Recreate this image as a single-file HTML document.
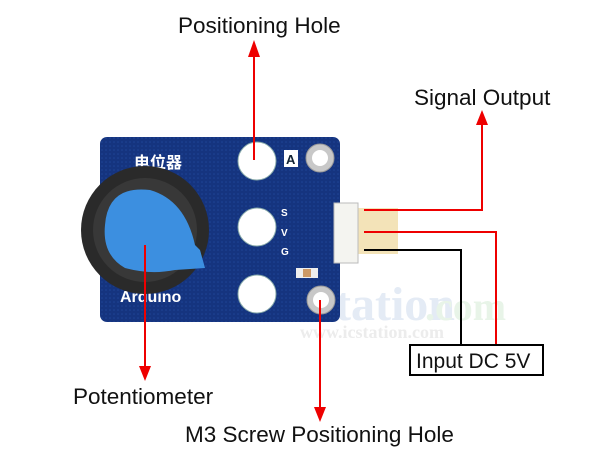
<!DOCTYPE html>
<html><head><style>body{margin:0;background:#fff}svg{display:block}text{font-family:"Liberation Sans",Arial,sans-serif;fill:#111}</style></head>
<body>
<svg width="600" height="450" viewBox="0 0 600 450" xmlns="http://www.w3.org/2000/svg">
<defs><pattern id="dots" width="4" height="4" patternUnits="userSpaceOnUse"><rect width="4" height="4" fill="#15347f"/><circle cx="2" cy="2" r="0.8" fill="#1f4496"/></pattern></defs>
<!-- watermark -->
<text x="335" y="320" font-size="48" font-weight="bold" style="fill:#e4ebf5;font-family:'Liberation Serif',serif">tation</text>
<text x="425" y="320" font-size="40" font-weight="bold" style="fill:#e8f4e8;font-family:'Liberation Serif',serif">.com</text>
<text x="300" y="338" font-size="18" font-weight="bold" style="fill:#ececec;font-family:'Liberation Serif',serif">www.icstation.com</text>
<!-- board -->
<rect x="100" y="137" width="240" height="185" rx="7" fill="url(#dots)"/>
<text x="134" y="168" font-size="16" font-weight="bold" style="fill:#fff;font-family:'Noto Sans CJK SC',sans-serif">电位器</text>
<text x="120" y="302" font-size="16" font-weight="bold" style="fill:#fff">Arduino</text>
<circle cx="257" cy="161" r="19" fill="#fff" stroke="#8aa" stroke-width="1"/>
<circle cx="257" cy="227" r="19" fill="#fff" stroke="#8aa" stroke-width="1"/>
<circle cx="257" cy="294" r="19" fill="#fff" stroke="#8aa" stroke-width="1"/>
<rect x="284" y="150" width="14" height="17" fill="#fff"/><text x="286" y="164" font-size="13" font-weight="bold" style="fill:#123">A</text>
<circle cx="320" cy="158" r="14" fill="#c8c8c8" stroke="#999"/><circle cx="320" cy="158" r="8" fill="#fff"/>
<circle cx="321" cy="300" r="14" fill="#c8c8c8" stroke="#999"/><circle cx="321" cy="300" r="8" fill="#fff"/>
<text x="281" y="216" font-size="10" font-weight="bold" style="fill:#fff">S</text>
<text x="281" y="236" font-size="10" font-weight="bold" style="fill:#fff">V</text>
<text x="281" y="255" font-size="10" font-weight="bold" style="fill:#fff">G</text>
<rect x="296" y="268" width="22" height="10" fill="#eee"/><rect x="303" y="269" width="8" height="8" fill="#c96"/>
<!-- connector -->
<rect x="358" y="208" width="40" height="46" fill="#f3e3b8"/>
<rect x="334" y="203" width="24" height="60" fill="#f4f4f0" stroke="#bbb"/>
<!-- knob -->
<circle cx="145" cy="230" r="64" fill="#2a2a2a"/>
<circle cx="145" cy="230" r="52" fill="#383838"/>
<path d="M105 225 Q108 185 150 190 Q185 200 195 245 L200 250 L205 268 L175 270 Q150 275 125 268 Q102 255 105 225Z" fill="#3c8fe0"/>
<!-- lines -->
<g stroke="#e00" stroke-width="2" fill="none">
<line x1="254" y1="55" x2="254" y2="160"/>
<polyline points="364,210 482,210 482,122"/>
<polyline points="364,232 496,232 496,345"/>
<line x1="145" y1="245" x2="145" y2="370"/>
<line x1="320" y1="300" x2="320" y2="410"/>
</g>
<polyline points="364,250 461,250 461,345" stroke="#000" stroke-width="2" fill="none"/>
<g fill="#e00">
<polygon points="254,40 248,57 260,57"/>
<polygon points="482,110 476,125 488,125"/>
<polygon points="145,381 139,366 151,366"/>
<polygon points="320,422 314,407 326,407"/>
</g>
<rect x="410" y="345" width="133" height="30" fill="#fff" stroke="#000" stroke-width="2"/>
<text x="416" y="368" font-size="21">Input DC 5V</text>
<text x="178" y="33" font-size="22.5">Positioning Hole</text>
<text x="414" y="105" font-size="22.5">Signal Output</text>
<text x="73" y="404" font-size="22.5">Potentiometer</text>
<text x="185" y="442" font-size="22.5">M3 Screw Positioning Hole</text>
</svg>
</body></html>
